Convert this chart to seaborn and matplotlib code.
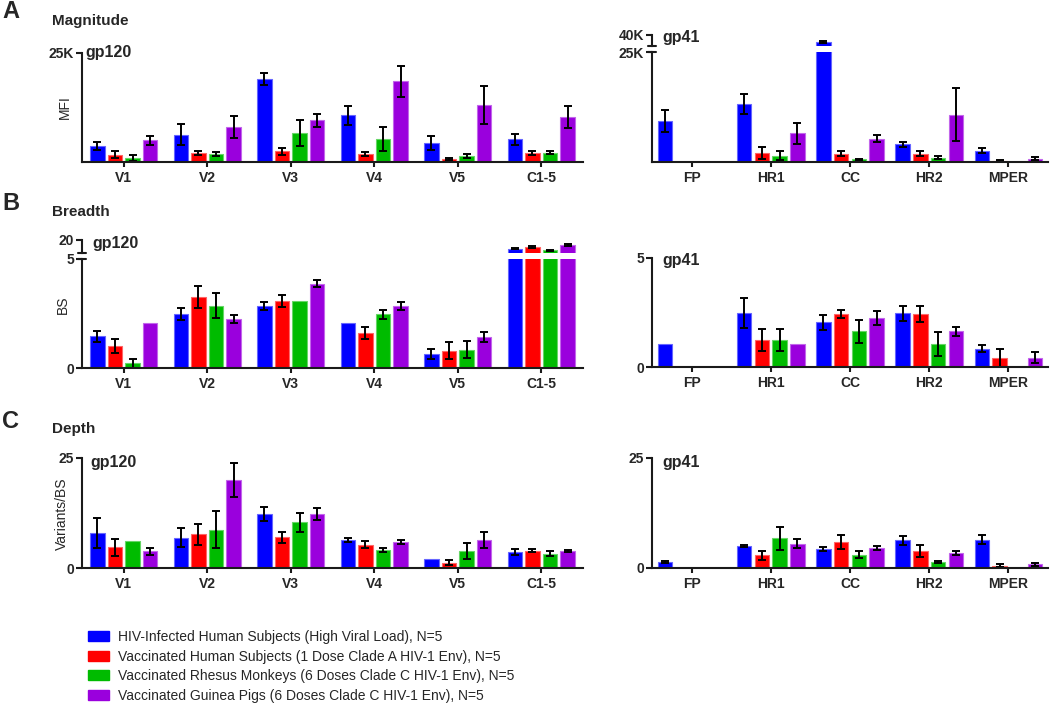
import numpy as np
import pandas as pd
import matplotlib
matplotlib.use("Agg")
import matplotlib.pyplot as plt
import matplotlib.colors as mcolors
import seaborn as sns
from matplotlib.patches import Patch

# ---------------- data ----------------
groups = [
    "HIV-Infected Human Subjects (High Viral Load), N=5",
    "Vaccinated Human Subjects (1 Dose Clade A HIV-1 Env), N=5",
    "Vaccinated Rhesus Monkeys (6 Doses Clade C HIV-1 Env), N=5",
    "Vaccinated Guinea Pigs (6 Doses Clade C HIV-1 Env), N=5",
]
colors = ["#0000FF", "#FF0000", "#00BB00", "#9A00DD"]

gp120_regions = ["V1", "V2", "V3", "V4", "V5", "C1-5"]
gp41_regions = ["FP", "HR1", "CC", "HR2", "MPER"]

# Magnitude (MFI), one row per group
mag_gp120 = [[3700, 6300, 19000, 10700, 4400, 5200],
             [1700, 2100, 2500, 1900, 700, 2000],
             [900, 1800, 6600, 5200, 1400, 2100],
             [5000, 8000, 9600, 18500, 13100, 10400]]
mag_gp120_err = [[1000, 2400, 1450, 2100, 1600, 1200],
                 [800, 500, 800, 500, 300, 500],
                 [700, 500, 3000, 2750, 400, 350],
                 [1000, 2600, 1500, 3600, 4300, 2500]]
mag_gp41 = [[9400, 13300, 33500, 4000, 2600],
            [0, 2000, 1900, 1900, 300],
            [0, 1450, 600, 1000, 0],
            [0, 6600, 5350, 10800, 700]]
mag_gp41_err = [[2500, 2300, 1000, 500, 600],
                [0, 1400, 500, 600, 150],
                [0, 1000, 150, 400, 0],
                [0, 2400, 700, 6100, 350]]

# Breadth (BS)
bre_gp120 = [[1.46, 2.46, 2.84, 2.05, 0.65, 16.6],
             [1.02, 3.24, 3.06, 1.60, 0.80, 17.4],
             [0.23, 2.86, 3.07, 2.46, 0.85, 15.9],
             [2.05, 2.24, 3.86, 2.84, 1.44, 18.1]]
bre_gp120_err = [[0.25, 0.27, 0.20, 0, 0.24, 0.3],
                 [0.32, 0.50, 0.27, 0.27, 0.38, 0.4],
                 [0.20, 0.58, 0, 0.20, 0.38, 0.2],
                 [0, 0.17, 0.15, 0.20, 0.23, 0.4]]
bre_gp41 = [[1.05, 2.46, 2.04, 2.46, 0.84],
            [0, 1.22, 2.42, 2.42, 0.41],
            [0, 1.24, 1.63, 1.05, 0],
            [0, 1.04, 2.24, 1.63, 0.43]]
bre_gp41_err = [[0, 0.68, 0.33, 0.35, 0.17],
                [0, 0.51, 0.20, 0.35, 0.41],
                [0, 0.50, 0.52, 0.55, 0],
                [0, 0, 0.34, 0.20, 0.26]]

# Depth (Variants/BS)
dep_gp120 = [[8.0, 6.9, 12.3, 6.4, 2.2, 3.7],
             [4.75, 7.7, 7.0, 5.3, 1.3, 4.0],
             [6.1, 8.7, 10.4, 4.1, 3.85, 3.3],
             [3.85, 19.9, 12.3, 6.0, 6.3, 3.9]]
dep_gp120_err = [[3.3, 2.1, 1.5, 0.5, 0, 0.6],
                 [1.9, 2.4, 1.3, 0.8, 0.6, 0.4],
                 [0, 4.2, 2.2, 0.4, 1.8, 0.6],
                 [0.8, 3.8, 1.4, 0.4, 1.8, 0.2]]
dep_gp41 = [[1.3, 4.9, 4.2, 6.2, 6.4],
            [0, 2.8, 5.8, 3.8, 0.45],
            [0, 6.7, 2.95, 1.3, 0],
            [0, 5.45, 4.5, 3.3, 0.75]]
dep_gp41_err = [[0.2, 0.3, 0.5, 1.1, 1.0],
                [0, 1.1, 1.65, 1.3, 0.3],
                [0, 2.65, 0.8, 0.2, 0],
                [0, 1.0, 0.4, 0.4, 0.4]]

# ---------------- style ----------------
sns.set_style("ticks")
plt.rcParams["font.family"] = ["Liberation Sans", "DejaVu Sans"]
SPINE = "#1a1a1a"

W, H = 1050, 704
fig = plt.figure(figsize=(W / 100, H / 100), dpi=100)


def rect(l, t, r, b):
    return [l / W, 1 - b / H, (r - l) / W, (b - t) / H]


def px(x, y):
    return x / W, 1 - y / H


def bar_panel(box, regions, means, errs, ylim, yticks, ylabels, width, gap, top_part=False):
    ax = fig.add_axes(box)
    df = pd.DataFrame({
        "region": [r for g in groups for r in regions],
        "group": [g for g in groups for r in regions],
        "value": [v for row in means for v in row],
    })
    sns.barplot(data=df, x="region", y="value", hue="group", order=regions,
                hue_order=groups, palette=colors, saturation=1, errorbar=None,
                width=width, gap=gap, legend=False, ax=ax)
    bars = list(ax.containers)
    for i, cont in enumerate(bars):
        for bar in cont:
            h = bar.get_height()
            if h > 0:
                edge = mcolors.to_rgb(colors[i])
                edge = tuple(0.6 * c + 0.4 for c in edge)
                bar.set_edgecolor(edge)
                bar.set_linewidth(0.8)
            else:
                bar.set_linewidth(0)
            xc = bar.get_x() + bar.get_width() / 2
            e = errs[i][int(round(xc))]
            if e > 0:
                ax.errorbar(xc, h, yerr=e, fmt="none", ecolor="black",
                            elinewidth=1.4, capsize=3.2, capthick=1.4)
    ax.set_xlim(-0.5, len(regions) - 0.5)
    ax.set_ylim(*ylim)
    ax.set_yticks(yticks)
    ax.set_yticklabels(ylabels, fontsize=10, fontweight="bold")
    ax.set_xlabel("")
    ax.set_ylabel("")
    for s in ["top", "right"]:
        ax.spines[s].set_visible(False)
    ax.spines["left"].set_linewidth(1.5)
    ax.spines["left"].set_color(SPINE)
    ax.tick_params(axis="y", length=4, width=1.5, pad=1.5, color=SPINE)
    if top_part:
        ax.spines["bottom"].set_visible(False)
        ax.set_xticks([])
        d = 4 / (box[2] * W)
        ax.plot([-d, d], [0, 0], transform=ax.transAxes, color=SPINE,
                lw=1.5, clip_on=False)
    else:
        ax.spines["bottom"].set_linewidth(1.5)
        ax.spines["bottom"].set_color(SPINE)
        ax.tick_params(axis="x", length=3.5, width=1.5, pad=3, color=SPINE)
        ax.set_xticks(range(len(regions)))
        ax.set_xticklabels(regions, fontsize=10, fontweight="bold")
    return ax


def break_top(ax):
    d = 4 / (ax.get_position().width * W)
    ax.plot([-d, d], [1, 1], transform=ax.transAxes, color=SPINE,
            lw=1.5, clip_on=False)


# ---------------- row A: magnitude ----------------
axA1 = bar_panel(rect(82, 53, 583, 162), gp120_regions, mag_gp120, mag_gp120_err,
                 (0, 25000), [25000], ["25K"], 0.84, 0.17)
axA1.set_ylabel("MFI", fontsize=10)
axA1.yaxis.set_label_coords(-0.02, 0.5)

axA2 = bar_panel(rect(652, 52.3, 1048, 162), gp41_regions, mag_gp41, mag_gp41_err,
                 (0, 25000), [25000], ["25K"], 0.894, 0.19)
break_top(axA2)
axA2h = bar_panel(rect(652, 34.7, 1048, 46), gp41_regions, mag_gp41, mag_gp41_err,
                  (30000, 40000), [40000], ["40K"], 0.894, 0.19, top_part=True)

# ---------------- row B: breadth ----------------
axB1 = bar_panel(rect(82, 258.7, 583, 368.3), gp120_regions, bre_gp120, bre_gp120_err,
                 (0, 5), [0, 5], ["0", "5"], 0.84, 0.17)
break_top(axB1)
axB1h = bar_panel(rect(82, 240, 583, 252.7), gp120_regions, bre_gp120, bre_gp120_err,
                  (15, 20), [20], ["20"], 0.84, 0.17, top_part=True)
axB1.set_ylabel("BS", fontsize=10)
axB1.yaxis.set_label_coords(-0.024, 0.58)

axB2 = bar_panel(rect(652, 257.7, 1048, 367), gp41_regions, bre_gp41, bre_gp41_err,
                 (0, 5), [0, 5], ["0", "5"], 0.894, 0.19)

# ---------------- row C: depth ----------------
axC1 = bar_panel(rect(82, 457.7, 583, 568.3), gp120_regions, dep_gp120, dep_gp120_err,
                 (0, 25), [0, 25], ["0", "25"], 0.84, 0.17)
axC1.set_ylabel("Variants/BS", fontsize=10)
axC1.yaxis.set_label_coords(-0.026, 0.49)

axC2 = bar_panel(rect(652, 457.7, 1048, 567.7), gp41_regions, dep_gp41, dep_gp41_err,
                 (0, 25), [0, 25], ["0", "25"], 0.894, 0.19)

# ---------------- titles ----------------
for letter, ly, title, ty in [("A", 12, "Magnitude", 21.5),
                              ("B", 204, "Breadth", 212),
                              ("C", 421.5, "Depth", 429)]:
    fig.text(*px(2, ly), letter, fontsize=17, fontweight="bold", va="center", ha="left")
    fig.text(*px(52, ty), title, fontsize=11, fontweight="bold", va="center", ha="left")

for x, y, s in [(85, 57.5, "gp120"), (662, 41.7, "gp41"),
                (92.7, 248.3, "gp120"), (662, 265, "gp41"),
                (90.7, 466.7, "gp120"), (662, 466.7, "gp41")]:
    fig.text(*px(x, y), s, fontsize=11.5, fontweight="bold", va="baseline", ha="left")

# ---------------- legend ----------------
handles = [Patch(facecolor=c, edgecolor=c) for c in colors]
fig.legend(handles, groups, loc="upper left", bbox_to_anchor=px(87.7, 630),
           frameon=False, fontsize=10, handlelength=1.55, handleheight=0.72,
           handletextpad=0.65, labelspacing=0.4, borderpad=0, borderaxespad=0)

fig.savefig("out.png", dpi=100)
